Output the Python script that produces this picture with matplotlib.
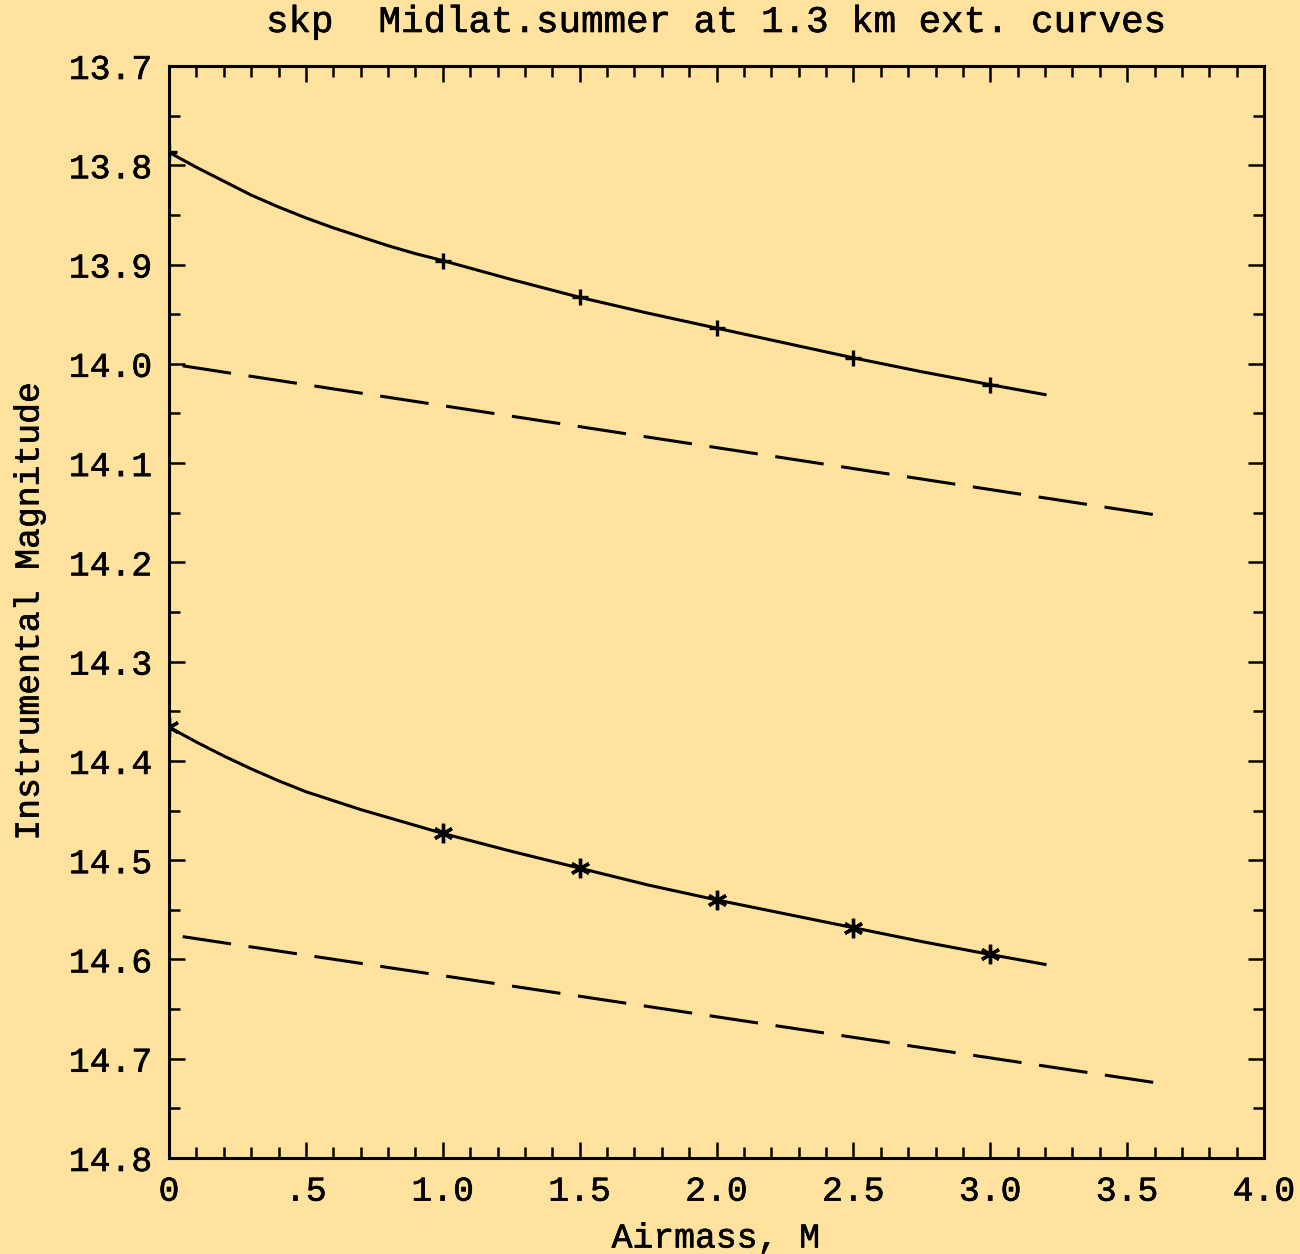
import matplotlib
matplotlib.use("Agg")
import matplotlib.pyplot as plt
import matplotlib.patheffects as pe
from matplotlib.ticker import MultipleLocator, FixedLocator, FixedFormatter

# Airmass grid of the model extinction curves
airmass = [0.0, 0.1, 0.2, 0.3, 0.4, 0.5, 0.6, 0.7, 0.8, 0.9, 1.0,
           1.25, 1.5, 1.75, 2.0, 2.25, 2.5, 2.75, 3.0, 3.2]

# Instrumental magnitudes along each curve (bright star: '+', faint star: '*')
mag_bright = [13.787, 13.802, 13.816, 13.830, 13.842, 13.853, 13.863, 13.872,
              13.881, 13.889, 13.896, 13.915, 13.933, 13.949, 13.964, 13.979,
              13.994, 14.008, 14.021, 14.031]
mag_faint = [14.366, 14.381, 14.395, 14.408, 14.420, 14.431, 14.440, 14.449,
             14.457, 14.465, 14.473, 14.491, 14.508, 14.525, 14.540, 14.554,
             14.568, 14.582, 14.595, 14.605]
marked_airmass = [0.0, 1.0, 1.5, 2.0, 2.5, 3.0]

# Linear (Bouguer) extinction lines
linear_airmass = [0.05, 3.6]
linear_bright = [14.002, 14.152]
linear_faint = [14.577, 14.724]

x_tick_values = [0.0, 0.5, 1.0, 1.5, 2.0, 2.5, 3.0, 3.5, 4.0]
x_tick_labels = ["0", ".5", "1.0", "1.5", "2.0", "2.5", "3.0", "3.5", "4.0"]
y_tick_values = [13.7, 13.8, 13.9, 14.0, 14.1, 14.2, 14.3, 14.4, 14.5, 14.6, 14.7, 14.8]
y_tick_labels = ["13.7", "13.8", "13.9", "14.0", "14.1", "14.2",
                 "14.3", "14.4", "14.5", "14.6", "14.7", "14.8"]

title = "skp  Midlat.summer at 1.3 km ext. curves"
xlabel = "Airmass, M"
ylabel = "Instrumental Magnitude"

BG = "#FFE29E"
INK = "black"
FONT = "Liberation Mono"
bold_ink = [pe.withStroke(linewidth=0.45, foreground=INK)]

W, H = 1300, 1254
fig = plt.figure(figsize=(W / 100, H / 100), dpi=100, facecolor=BG)
ax = fig.add_axes([169 / W, 1 - 1158 / H, (1264 - 169) / W, (1158 - 66) / H])
ax.set_facecolor(BG)

lw = 2.2
marks = [airmass.index(v) for v in marked_airmass]
ax.plot(airmass, mag_bright, color=INK, lw=lw, marker="+", markersize=11,
        markeredgewidth=2.4, markevery=marks, solid_joinstyle="round")
ax.plot(airmass, mag_faint, color=INK, lw=lw, marker=(6, 2, 0), markersize=14,
        markeredgewidth=2.4, markevery=marks, solid_joinstyle="round")
for yy in (linear_bright, linear_faint):
    ax.plot(linear_airmass, yy, color=INK, lw=lw, linestyle=(0, (16, 5.8)),
            dash_capstyle="butt")

ax.set_xlim(0, 4)
ax.set_ylim(14.8, 13.7)

ax.xaxis.set_major_locator(FixedLocator(x_tick_values))
ax.xaxis.set_major_formatter(FixedFormatter(x_tick_labels))
ax.xaxis.set_minor_locator(MultipleLocator(0.1))
ax.yaxis.set_major_locator(FixedLocator(y_tick_values))
ax.yaxis.set_major_formatter(FixedFormatter(y_tick_labels))
ax.yaxis.set_minor_locator(MultipleLocator(0.05))

for sp in ax.spines.values():
    sp.set_linewidth(2.2)
    sp.set_color(INK)

ax.tick_params(which="both", direction="in", top=True, right=True,
               width=1.8, color=INK)
ax.tick_params(which="major", length=11.5)
ax.tick_params(which="minor", length=8)
ax.tick_params(axis="y", which="major", pad=12)
ax.tick_params(axis="x", which="major", pad=12)

for lab in ax.get_xticklabels() + ax.get_yticklabels():
    lab.set_fontfamily(FONT)
    lab.set_fontsize(25)
    lab.set_color(INK)
    lab.set_path_effects(bold_ink)

fig.text(716 / W, 1 - 22 / H, title, ha="center", va="center",
         family=FONT, fontsize=27, color=INK, path_effects=bold_ink)
fig.text(716 / W, 1 - 1238 / H, xlabel, ha="center", va="center",
         family=FONT, fontsize=25, color=INK, path_effects=bold_ink)
fig.text(29 / W, 1 - 611 / H, ylabel, ha="center", va="center", rotation=90,
         family=FONT, fontsize=25, color=INK, path_effects=bold_ink)

fig.savefig("out.png", dpi=100, facecolor=BG)
